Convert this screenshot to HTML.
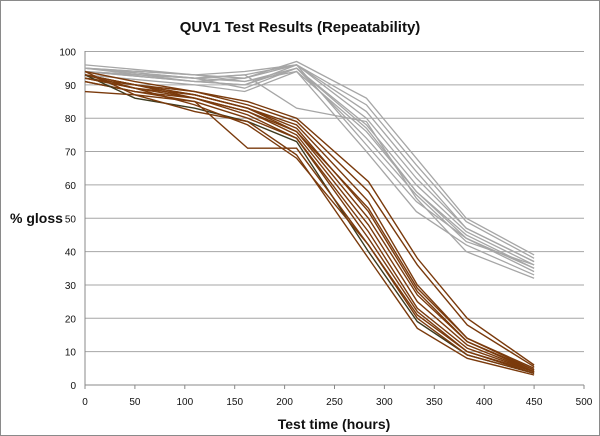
<!DOCTYPE html>
<html><head><meta charset="utf-8"><style>
html,body{margin:0;padding:0;background:#fff}
body{width:600px;height:436px;overflow:hidden}
svg{display:block}
text{font-family:"Liberation Sans",sans-serif}
</style></head><body>
<svg id="s" width="600" height="436" viewBox="0 0 600 436">
<rect x="0.5" y="0.5" width="599" height="435" fill="#fff" stroke="#8a8a8a"/>
<text x="300" y="32" text-anchor="middle" font-size="15" font-weight="bold" fill="#111">QUV1 Test Results (Repeatability)</text>
<text x="10" y="223" font-size="14" font-weight="bold" fill="#111">% gloss</text>
<text x="334" y="429" text-anchor="middle" font-size="14" font-weight="bold" fill="#111">Test time (hours)</text>
<g id="g"></g>
</svg>
<script>
var X0=85,XS=(584-85)/500,Y0=385,YS=(385-51.5)/100;
function px(x){return X0+x*XS}function py(y){return Y0-y*YS}
var g=document.getElementById('g'),h='';
for(var v=10;v<=100;v+=10)h+='<line x1="85" x2="584" y1="'+py(v)+'" y2="'+py(v)+'" stroke="#a6a6a6" stroke-width="1"/>';
for(var v=0;v<=100;v+=10)h+='<text x="76" y="'+(py(v)+4)+'" text-anchor="end" font-size="10" fill="#111">'+v+'</text>';
for(var v=0;v<=500;v+=50){h+='<text x="'+px(v)+'" y="405" text-anchor="middle" font-size="10" fill="#111">'+v+'</text>';h+='<line x1="'+px(v)+'" x2="'+px(v)+'" y1="385" y2="389" stroke="#888"/>';}
h+='<line x1="85" x2="85" y1="51" y2="385" stroke="#888"/><line x1="85" x2="584" y1="385" y2="385" stroke="#888"/>';
var gx=[0,110,160,212,282,332,382,450];
var gr=[[96,93,92,97,86,68,50,39],[95,93,94,96,84,66,49,38],[95,92,93,96,80,62,47,37],[94,91,90,95,78,60,46,36],[94,92,89,95,77,58,45,35],[95,93,91,94,76,58,44,35],[94,91,92,96,72,55,44,34],[93,90,88,94,70,52,42,33],[95,92,93,83,79,56,40,32],[94,92,91,95,74,57,43,36],[95,91,90,96,82,64,47,37]];
gr.forEach(function(a){h+='<polyline fill="none" stroke="#a6a6a6" stroke-width="1.3" points="'+a.map(function(v,i){return px(gx[i])+','+py(v)}).join(' ')+'"/>';});
var bx=[0,50,110,163,212,284,333,383,450];
var br=[[94,91,88,85,80,61,38,20,6],[93,90,88,84,79,58,36,18,5.5],[93,89,87,83,78,55,30,14,5],[92,90,87,83,77,52,28,13,4.5],[91,88,86,82,76,50,27,13,4],[93,90,86,82,75,48,25,12,4],[92,89,86,81,74,46,23,11,4],[91,88,85,80,74,44,22,10,3.5],[93,86,83,79,73,40,19,9,3.5],[94,87,82,79,69,38,17,8,3],[88,87,85,71,71,42,21,10,4],[92,89,84,78,68,42,20,9,3.5],[93,90,87,83,76,53,29,14,4.5]];
br.forEach(function(a,k){h+='<polyline fill="none" stroke="'+(k==8?'#3d3a1e':'#7a3a0c')+'" stroke-width="1.4" points="'+a.map(function(v,i){return px(bx[i])+','+py(v)}).join(' ')+'"/>';});
g.innerHTML=h;
</script>
</body></html>
